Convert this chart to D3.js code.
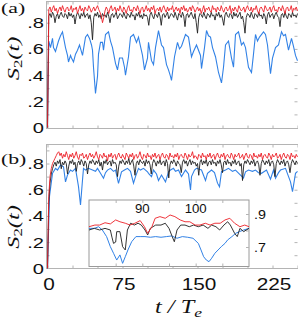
<!DOCTYPE html>
<html>
<head>
<meta charset="UTF-8">
<title>S2(t)</title>
<script src="https://d3js.org/d3.v7.min.js"></script>
<style>
  body { margin: 0; background: #fff; }
  .frame { fill: none; stroke: #b4b4b4; stroke-width: 1; }
  .tick line { stroke: #b4b4b4; }
  .lbl { font-family: "Liberation Sans", Arial, sans-serif; fill: #111; }
  .ser { font-family: "Liberation Serif", "Times New Roman", serif; fill: #111; }
</style>
</head>
<body>
<script>
// ---- data ----
// panel (a), red and black sampled evenly over t = 0..250 (step 1.25)
var redA = [0, .90, .92, .88, .91, .93, .89, .91, .87, .90, .92, .89, .93, .90, .88, .91, .92, .89, .90, .93,
  .88, .91, .90, .92, .87, .90, .93, .89, .91, .88, .92, .90, .89, .93, .91, .88, .90, .92, .89, .91,
  .93, .90, .88, .85, .80, .84, .89, .92, .90, .87, .91, .93, .89, .90, .92, .88, .91, .89, .93, .90,
  .88, .92, .90, .87, .91, .93, .89, .90, .88, .92, .91, .89, .93, .90, .87, .91, .92, .88, .90, .93,
  .89, .91, .88, .92, .90, .93, .87, .90, .91, .89, .92, .88, .91, .93, .90, .88, .92, .89, .91, .90,
  .93, .88, .90, .92, .89, .91, .87, .92, .90, .93, .89, .91, .88, .90, .92, .89, .93, .91, .88, .90,
  .92, .89, .91, .87, .90, .93, .88, .91, .90, .92, .89, .88, .93, .90, .91, .88, .92, .90, .89, .93,
  .90, .88, .91, .92, .89, .90, .93, .87, .91, .89, .92, .90, .88, .93, .91, .89, .90, .92, .88, .91,
  .93, .90, .89, .92, .88, .91, .90, .93, .89, .87, .91, .92, .90, .88, .93, .91, .89, .90, .92, .88,
  .91, .93, .89, .90, .88, .92, .91, .89, .93, .90, .87, .91, .92, .89, .90, .93, .88, .91, .90, .92,
  .89];
var blackA = [0, .85, .87, .84, .88, .86, .80, .85, .87, .83, .86, .88, .85, .84, .87, .86, .83, .88, .85, .87,
  .84, .86, .79, .85, .88, .86, .83, .87, .85, .88, .84, .86, .87, .83, .86, .80, .67, .84, .87, .85,
  .88, .84, .86, .83, .87, .85, .86, .84, .88, .85, .80, .86, .87, .84, .86, .88, .83, .85, .87, .86,
  .84, .88, .85, .83, .87, .86, .84, .88, .85, .86, .82, .87, .85, .88, .84, .86, .83, .87, .85, .86,
  .84, .78, .86, .88, .85, .83, .87, .86, .84, .88, .85, .78, .86, .87, .84, .86, .88, .83, .85, .87,
  .86, .84, .88, .85, .82, .87, .86, .84, .88, .85, .77, .86, .87, .84, .86, .88, .85, .83, .87, .80,
  .72, .84, .87, .86, .84, .88, .85, .83, .87, .86, .84, .88, .85, .86, .82, .87, .85, .88, .84, .86,
  .83, .78, .86, .88, .85, .84, .87, .86, .83, .88, .85, .87, .84, .86, .88, .83, .85, .80, .72, .84,
  .87, .86, .84, .88, .85, .83, .87, .86, .84, .88, .85, .86, .83, .87, .85, .79, .86, .88, .84, .86,
  .87, .83, .86, .88, .85, .84, .77, .86, .87, .84, .88, .85, .83, .87, .86, .84, .88, .85, .86, .84,
  .87];
// blue: [t, value]
var blueA = [[0,0],[0.5,.36],[1.3,.66],[3,.61],[5,.68],[6,.61],[8,.58],[11,.66],[13,.70],[15,.73],[18,.61],[20,.55],
  [21,.50],[23,.55],[24,.53],[26,.50],[28,.56],[30,.59],[32,.63],[35,.55],[38,.69],[40,.71],[42,.68],[44,.63],[45,.59],[46,.46],
  [48,.26],[50,.39],[51,.56],[53,.65],[55,.65],[56,.59],[58,.71],[61,.73],[63,.66],[65,.61],[68,.49],[70,.44],
  [72,.53],[75,.53],[77,.46],[78,.40],[81,.54],[83,.69],[86,.71],[89,.65],[91,.69],[93,.62],[95,.55],[97,.44],[100,.53],
  [101,.65],[104,.51],[106,.48],[108,.61],[111,.74],[114,.63],[116,.61],[119,.48],[121,.44],[123,.39],[124,.36],
  [127,.54],[130,.65],[132,.60],[134,.62],[138,.71],[141,.69],[144,.54],[146,.58],[149,.63],[153,.55],[154,.45],
  [157,.61],[159,.74],[161,.70],[163,.69],[165,.61],[168,.54],[171,.42],[174,.34],[176,.46],[178,.63],[181,.66],
  [184,.53],[186,.46],[188,.71],[191,.73],[194,.63],[196,.65],[198,.61],[201,.46],[204,.42],[206,.56],[208,.71],
  [210,.66],[212,.69],[216,.73],[218,.71],[220,.63],[223,.41],[225,.53],[228,.61],[231,.63],[234,.73],[236,.70],[238,.71],
  [241,.59],[244,.68],[246,.62],[248,.55],[250,.51]];

// panel (b)
var redB = [0, .55, .70, .76, .80, .82, .84, .86, .88, .89, .86, .88, .84, .87, .85, .89, .86, .83, .87, .85,
  .88, .84, .86, .89, .85, .83, .87, .86, .88, .84, .85, .87, .83, .86, .88, .85, .87, .84, .86, .89,
  .85, .83, .87, .86, .84, .88, .85, .86, .82, .87, .85, .88, .84, .86, .87, .83, .86, .88, .85, .84,
  .87, .85, .83, .88, .86, .84, .87, .85, .88, .83, .86, .87, .84, .86, .89, .85, .83, .87, .86, .84,
  .88, .85, .86, .83, .87, .85, .88, .84, .86, .87, .83, .86, .88, .85, .84, .87, .86, .83, .88, .85,
  .86, .84, .87, .85, .88, .83, .86, .87, .85, .84, .88, .86, .83, .87, .85, .86, .89, .84, .86, .85,
  .83, .87, .86, .84, .88, .85, .86, .83, .87, .85, .88, .84, .86, .87, .83, .86, .88, .85, .84, .87,
  .85, .88, .83, .86, .87, .85, .84, .88, .86, .83, .87, .85, .86, .88, .84, .85, .87, .83, .86, .88,
  .85, .84, .87, .86, .83, .88, .85, .86, .84, .87, .85, .88, .83, .86, .87, .85, .84, .88, .86, .83,
  .87, .85, .86, .88, .84, .85, .87, .83, .86, .88, .85, .84, .87, .86, .83, .88, .85, .86, .84, .87,
  .85];
var blackB = [0, .50, .65, .72, .76, .79, .81, .78, .82, .80, .83, .76, .81, .79, .82, .80, .72, .78, .82, .80,
  .83, .79, .81, .74, .80, .82, .79, .83, .81, .78, .82, .80, .72, .79, .82, .80, .83, .81, .79, .82,
  .80, .83, .78, .81, .75, .82, .80, .83, .79, .81, .82, .78, .83, .80, .81, .79, .70, .78, .82, .80,
  .83, .81, .79, .82, .80, .84, .79, .81, .83, .78, .71, .80, .82, .79, .83, .81, .80, .82, .78, .83,
  .80, .82, .79, .72, .80, .83, .81, .78, .82, .80, .83, .79, .81, .82, .78, .83, .80, .69, .79, .82,
  .80, .83, .81, .78, .82, .80, .79, .73, .81, .83, .80, .82, .78, .81, .83, .79, .82, .80, .81, .78,
  .80, .71, .81, .83, .79, .82, .80, .83, .78, .81, .82, .79, .83, .80, .81, .78, .82, .80, .83, .79,
  .73, .81, .82, .79, .83, .80, .81, .78, .82, .80, .83, .79, .81, .82, .78, .80, .67, .79, .82, .80,
  .83, .81, .79, .82, .80, .83, .78, .81, .82, .79, .71, .80, .83, .81, .79, .82, .80, .83, .78, .81,
  .82, .79, .70, .80, .83, .81, .79, .82, .80, .83, .78, .81, .82, .79, .73, .80, .83, .81, .79, .82,
  .80];
var blueB = [[0,0],[2,.55],[5,.725],[8,.763],[10,.75],[13,.789],[16,.775],[18,.66],[20,.712],[23,.75],[25,.74],[28,.763],
  [31,.623],[33,.483],[35,.674],[36,.763],[38,.75],[41,.763],[45,.75],[48,.74],[50,.763],[53,.725],[56,.687],[58,.73],[60,.75],
  [63,.763],[66,.74],[68,.75],[71,.649],[74,.737],[77,.75],[80,.763],[83,.74],[86,.65],[88,.70],[91,.763],[93,.75],[96,.763],
  [100,.737],[101,.725],[104,.70],[106,.75],[109,.72],[111,.67],[114,.712],[118,.66],[121,.737],[123,.75],
  [126,.763],[128,.74],[131,.75],[134,.70],[138,.75],[141,.72],[143,.598],[144,.70],[147,.75],[149,.763],[154,.75],[158,.67],
  [160,.725],[164,.75],[167,.73],[170,.65],[172,.623],[174,.737],[178,.75],[181,.763],[185,.74],[188,.75],[193,.712],[196,.69],
  [198,.737],[201,.75],[205,.74],[208,.75],[211,.73],[214,.725],[219,.75],[223,.68],[226,.75],[228,.687],[231,.73],[233,.75],
  [238,.763],[243,.66],[245,.585],[248,.725],[250,.74]];

// inset, t = 80..110
var redIn = [[80,.823],[81.1,.833],[82,.833],[83,.847],[84,.84],[85,.864],[85.8,.853],[86.8,.844],
  [87.7,.833],[88.6,.844],[89.6,.86],[90.4,.823],[91,.783],[91.8,.823],[92.4,.874],[93.3,.884],
  [94.3,.874],[95.2,.894],[96.1,.884],[97.1,.864],[98,.853],[98.9,.853],[99.9,.833],[100.8,.833],
  [101.8,.844],[102.7,.833],[103.6,.844],[104.6,.844],[105.5,.864],[106.4,.874],[107.3,.844],
  [108.3,.823],[109.2,.833],[110,.823]];
var blackIn = [[80,.803],[81,.813],[82,.803],[83,.813],[84,.803],[84.3,.76],[84.6,.722],[85,.73],
  [85.2,.793],[85.8,.793],[86.3,.702],[86.8,.682],[87.2,.803],[87.8,.844],[88.5,.833],[89.2,.844],
  [89.8,.833],[90.5,.803],[91,.773],[91.5,.813],[92.5,.833],[93.5,.833],[94.3,.844],[95,.813],
  [95.6,.763],[96,.732],[96.5,.803],[97.2,.833],[98,.833],[98.8,.823],[99.6,.833],[100.5,.823],
  [101.4,.833],[102.3,.813],[103,.833],[103.8,.823],[104.5,.803],[105.3,.833],[106,.853],[106.5,.833],
  [107.3,.783],[107.8,.763],[108.3,.813],[109,.793],[110,.813]];
var blueIn = [[80,.813],[81,.813],[81.8,.823],[82.5,.803],[83.3,.763],[84,.702],[84.6,.662],[85.2,.621],
  [85.8,.652],[86.3,.601],[86.8,.641],[87.3,.682],[88,.732],[88.8,.763],[89.6,.763],[90.5,.763],
  [91.5,.759],[92.5,.763],[93.5,.759],[94.5,.763],[95.5,.767],[96.5,.753],[97.5,.763],[98.5,.759],
  [99.5,.753],[100.5,.722],[101,.682],[101.5,.641],[102,.621],[102.5,.611],[103,.632],[103.6,.662],
  [104.2,.682],[104.8,.702],[105.5,.722],[106,.743],[106.8,.763],[107.5,.783],[108.2,.793],[109,.803],
  [110,.813]];

var yTicks = [0, .2, .4, .6, .8];
var yTickLabels = ["0", ".2", ".4", ".6", ".8"];
var xTicks = [0, 75, 150, 225];
var inXTicks = [90, 100];
var inYTicks = [.9, .7];
var inYTickLabels = [".9", ".7"];

var colRed = "#ec1f27", colBlack = "#1e1e1e", colBlue = "#3282e6";

// ---- layout ----
var width = 298, height = 319;
var svg = d3.select("body").append("svg").attr("width", width).attr("height", height);

var x = d3.scaleLinear().domain([0, 250]).range([47.5, 297.5]);
var yA = d3.scaleLinear().domain([0, 1]).range([127.5, -3.5]);
var yB = d3.scaleLinear().domain([0, 1]).range([268.3, 137.3]);
var xIn = d3.scaleLinear().domain([80, 110]).range([89, 249]);
var yIn = d3.scaleLinear().domain([.7, .9]).range([247, 214]);

function evenLine(y) {
  return function(arr) {
    return d3.line()
      .x(function(d, i) { return x(i * 250 / (arr.length - 1)); })
      .y(function(d) { return y(d); })(arr);
  };
}
function pairLine(xs, y) {
  return d3.line().x(function(d) { return xs(d[0]); }).y(function(d) { return y(d[1]); });
}

function panel(y, top, bottom, labelY, red, black, blue) {
  var g = svg.append("g");
  g.append("rect").attr("class", "frame")
    .attr("x", 46.5).attr("y", top).attr("width", 252).attr("height", bottom - top);

  // inner ticks
  var tv = d3.range(0, 251, 25);
  g.append("g").attr("transform", "translate(0," + bottom + ")")
    .call(d3.axisBottom(x).tickValues(tv).tickSize(-3).tickFormat(""))
    .call(function(s) { s.select(".domain").remove(); });
  g.append("g").attr("transform", "translate(0," + top + ")")
    .call(d3.axisTop(x).tickValues(tv).tickSize(-3).tickFormat(""))
    .call(function(s) { s.select(".domain").remove(); });
  var yv = d3.range(1, 10).map(function(k) { return k / 10; }).filter(function(v) { return y(v) > top + 2; });
  g.append("g").attr("transform", "translate(46.5,0)")
    .call(d3.axisLeft(y).tickValues(yv).tickSize(-3).tickFormat(""))
    .call(function(s) { s.select(".domain").remove(); });
  g.append("g").attr("transform", "translate(297.5,0)")
    .call(d3.axisRight(y).tickValues(yv).tickSize(-3).tickFormat(""))
    .call(function(s) { s.select(".domain").remove(); });

  var ev = evenLine(y);
  g.append("path").attr("d", pairLine(x, y)(blue)).attr("fill", "none").attr("stroke", colBlue).attr("stroke-width", 1.1);
  g.append("path").attr("d", ev(black)).attr("fill", "none").attr("stroke", colBlack).attr("stroke-width", 0.9);
  g.append("path").attr("d", ev(red)).attr("fill", "none").attr("stroke", colRed).attr("stroke-width", 0.9);

  // y tick labels
  yTicks.forEach(function(v, i) {
    g.append("text").attr("class", "lbl")
      .attr("transform", "translate(44," + (y(v) + 5.5) + ") scale(1.3,1)")
      .attr("text-anchor", "end").style("font-size", "15.5px")
      .text(yTickLabels[i]);
  });

  // y axis title S2(t)
  var t = g.append("text").attr("class", "ser")
    .attr("transform", "translate(18.5," + labelY + ") rotate(-90) scale(1.4,1)")
    .attr("text-anchor", "middle").style("font-size", "17.5px").style("font-style", "italic");
  t.append("tspan").text("S");
  t.append("tspan").attr("dy", 3).style("font-size", "12px").style("font-style", "normal").text("2");
  t.append("tspan").attr("dy", -3).text("(t)");
  return g;
}

panel(yA, 1.5, 128.5, 58.5, redA, blackA, blueA);
panel(yB, 144.5, 268.5, 227, redB, blackB, blueB);

// panel letters
svg.append("text").attr("class", "ser").attr("transform", "translate(1,13) scale(1.45,1)")
  .style("font-size", "15px").text("(a)");
svg.append("text").attr("class", "ser").attr("transform", "translate(1,164) scale(1.45,1)")
  .style("font-size", "15px").text("(b)");

// bottom tick labels
xTicks.forEach(function(v) {
  svg.append("text").attr("class", "lbl")
    .attr("transform", "translate(" + (x(v) + 1.5) + ",290) scale(1.3,1)")
    .attr("text-anchor", "middle").style("font-size", "16px").text(v);
});

// x axis title
var xt = svg.append("text").attr("class", "ser")
  .attr("transform", "translate(155,313) scale(1.35,1)")
  .style("font-size", "18px").style("font-style", "italic");
xt.append("tspan").text("t / T");
xt.append("tspan").attr("dy", 4).style("font-size", "13px").text("e");

// ---- inset ----
var gi = svg.append("g");
gi.append("rect").attr("x", 89).attr("y", 200).attr("width", 160).attr("height", 66.5)
  .attr("fill", "#fff").attr("stroke", "#9a9a9a").attr("stroke-width", 1);
gi.append("g").attr("transform", "translate(0,266.5)")
  .call(d3.axisBottom(xIn).tickValues(d3.range(85, 110, 5)).tickSize(-3).tickFormat(""))
  .call(function(s) { s.select(".domain").remove(); });
gi.append("g").attr("transform", "translate(0,200)")
  .call(d3.axisTop(xIn).tickValues(d3.range(85, 110, 5)).tickSize(-3).tickFormat(""))
  .call(function(s) { s.select(".domain").remove(); });
gi.append("g").attr("transform", "translate(249,0)")
  .call(d3.axisRight(yIn).tickValues([.7, .8, .9]).tickSize(-3).tickFormat(""))
  .call(function(s) { s.select(".domain").remove(); });
var pl = pairLine(xIn, yIn);
gi.append("path").attr("d", pl(blueIn)).attr("fill", "none").attr("stroke", colBlue).attr("stroke-width", 1);
gi.append("path").attr("d", pl(blackIn)).attr("fill", "none").attr("stroke", colBlack).attr("stroke-width", 0.9);
gi.append("path").attr("d", pl(redIn)).attr("fill", "none").attr("stroke", colRed).attr("stroke-width", 0.9);

inXTicks.forEach(function(v) {
  gi.append("text").attr("class", "lbl")
    .attr("transform", "translate(" + xIn(v) + ",213) scale(1.1,1)")
    .attr("text-anchor", "middle").style("font-size", "12px").text(v);
});
inYTicks.forEach(function(v, i) {
  gi.append("text").attr("class", "lbl")
    .attr("transform", "translate(254," + (yIn(v) + 4.5) + ") scale(1.1,1)")
    .style("font-size", "13px").text(inYTickLabels[i]);
});
</script>
</body>
</html>
